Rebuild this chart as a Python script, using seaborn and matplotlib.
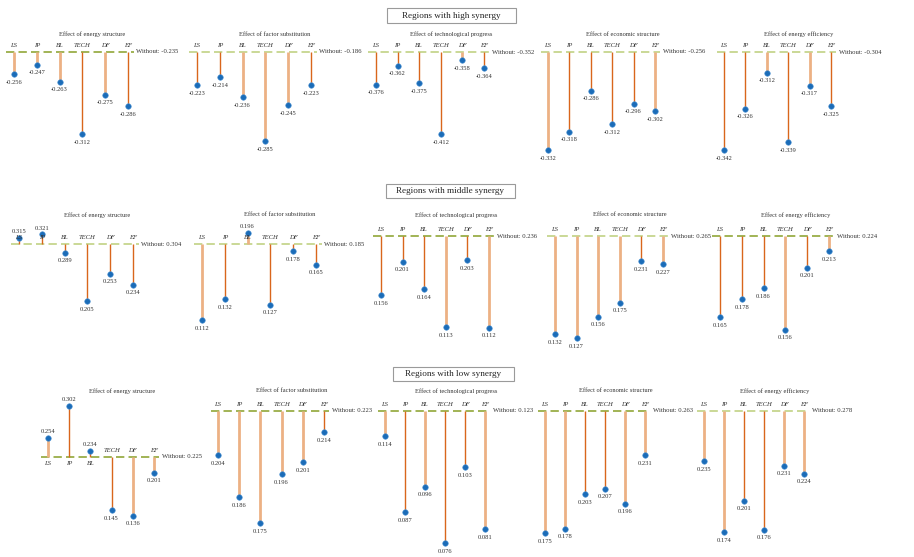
import matplotlib
matplotlib.use("Agg")
import matplotlib.pyplot as plt
from matplotlib.patches import Rectangle
import pandas as pd
import seaborn as sns

# ---- data -------------------------------------------------------------
categories = ["LS", "IP", "BL", "TECH", "DF", "EF"]
effects = ["Effect of energy structure", "Effect of factor substitution",
           "Effect of technological progress", "Effect of economic structure",
           "Effect of energy efficiency"]
groups = ["Regions with high synergy", "Regions with middle synergy",
          "Regions with low synergy"]

high_without = [-0.235, -0.186, -0.352, -0.256, -0.304]
high_values = [
    [-0.256, -0.247, -0.263, -0.312, -0.275, -0.286],
    [-0.223, -0.214, -0.236, -0.285, -0.245, -0.223],
    [-0.376, -0.362, -0.375, -0.412, -0.358, -0.364],
    [-0.332, -0.318, -0.286, -0.312, -0.296, -0.302],
    [-0.342, -0.326, -0.312, -0.339, -0.317, -0.325],
]
middle_without = [0.304, 0.185, 0.236, 0.265, 0.224]
middle_values = [
    [0.315, 0.321, 0.289, 0.205, 0.253, 0.234],
    [0.112, 0.132, 0.196, 0.127, 0.178, 0.165],
    [0.156, 0.201, 0.164, 0.113, 0.203, 0.112],
    [0.132, 0.127, 0.156, 0.175, 0.231, 0.227],
    [0.165, 0.178, 0.186, 0.156, 0.201, 0.213],
]
low_without = [0.225, 0.223, 0.123, 0.263, 0.278]
low_values = [
    [0.254, 0.302, 0.234, 0.145, 0.136, 0.201],
    [0.204, 0.186, 0.175, 0.196, 0.201, 0.214],
    [0.114, 0.087, 0.096, 0.076, 0.103, 0.081],
    [0.175, 0.178, 0.203, 0.207, 0.196, 0.231],
    [0.235, 0.174, 0.201, 0.176, 0.231, 0.224],
]

# ---- styling ----------------------------------------------------------
# stem tone per category: d = dark thin stem, l = light wide stem
stem_tones = [
    ["llldld", "ddllld", "ddddld", "lddddl", "ddldld"],
    ["dddddd", "ldlddd", "dddldl", "lllldl", "dddldl"],
    ["ldddll", "llllld", "ldlddl", "llddll", "llddll"],
]
baseline_tones = ["dllll", "lldld", "ddddl"]

# panel geometry in pixels: first stem x, stem spacing, baseline y, px per unit
panel_geom = [
    [(14, 22.8, 52, 1065), (197, 22.8, 52, 900), (376, 21.6, 52, 1367),
     (548, 21.4, 52, 1289), (724, 21.4, 52, 2579)],
    [(19, 22.8, 244, 580), (202, 22.8, 244, 1045), (381, 21.6, 236, 740),
     (555, 21.6, 236, 740), (720, 21.8, 236, 1380)],
    [(48, 21.2, 457, 662), (218, 21.2, 411, 2333), (385, 20.0, 411, 2809),
     (545, 20.0, 411, 1386), (704, 20.0, 411, 1163)],
]
title_y = [34, 215, 391]
header_boxes = [(451.5, 15.5, 129, 15), (450.5, 191, 129, 14), (453.5, 374, 121, 14)]

DARK_STEM, LIGHT_STEM = "#d9661c", "#ecb184"
DARK_BASE, LIGHT_BASE = "#9aae48", "#c6d68e"
POINT = "#1b6cb8"
TEXT = "#333333"

sns.set_theme(style="white")
plt.rcParams["font.family"] = ["Liberation Serif", "DejaVu Serif"]
plt.rcParams["lines.scale_dashes"] = False

W, H = 914, 557
fig = plt.figure(figsize=(W / 100, H / 100), dpi=100)
fig.patch.set_facecolor("white")

rows = [(high_values, high_without), (middle_values, middle_without),
        (low_values, low_without)]

for r, (vals_row, wo_row) in enumerate(rows):
    for p in range(5):
        x0, dx, by, scale = panel_geom[r][p]
        base = wo_row[p]
        vals = vals_row[p]
        left = x0 - 0.35 * dx
        width = 5.6 * dx
        ax = fig.add_axes([left / W, 0, width / W, 1])
        ax.set_xlim(-0.35, 5.25)
        ax.set_ylim(base - (H - by) / scale, base + by / scale)
        ax.axis("off")
        ax.patch.set_alpha(0)

        bcol = DARK_BASE if baseline_tones[r][p] == "d" else LIGHT_BASE
        ax.axhline(base, color=bcol, lw=1.3, dashes=(6, 3), zorder=1)

        df = pd.DataFrame({"pos": range(len(categories)), "value": vals,
                           "cat": categories})
        for i, v in enumerate(vals):
            dark = stem_tones[r][p][i] == "d"
            ax.vlines(i, base, v, color=DARK_STEM if dark else LIGHT_STEM,
                      lw=1.0 if dark else 2.0, zorder=2)
        sns.scatterplot(data=df, x="pos", y="value", ax=ax, color=POINT,
                        s=16, edgecolor="#4f94d4", linewidth=0.4,
                        zorder=3, legend=False)

        # long upward stems push their category label under the baseline
        flip = max((v - base) * scale for v in vals) > 15
        for i, (cat, v) in enumerate(zip(categories, vals)):
            below = flip and v > base
            ax.annotate(cat, (i, base), xytext=(0, -4.4 if below else 4.4),
                        textcoords="offset points", ha="center", va="center",
                        fontsize=4.8, style="italic", color=TEXT)
            ax.annotate(f"{v:.3f}", (i, v),
                        xytext=(0, -5.8 if v < base else 4.4),
                        textcoords="offset points", ha="center", va="center",
                        fontsize=4.7, color=TEXT)
        ax.annotate(f"Without: {base:.3f}", (5.25, base), xytext=(2, 0),
                    textcoords="offset points", ha="left", va="center",
                    fontsize=4.8, color=TEXT)

        cx = (left + left + width + 44) / 2
        fig.text(cx / W, 1 - title_y[r] / H, effects[p], ha="center",
                 va="center", fontsize=4.6, color=TEXT)

for (cx, cy, bw, bh), label in zip(header_boxes, groups):
    fig.add_artist(Rectangle(((cx - bw / 2) / W, 1 - (cy + bh / 2) / H),
                             bw / W, bh / H, transform=fig.transFigure,
                             facecolor="white", edgecolor="#9a9a9a", lw=0.8))
    fig.text(cx / W, 1 - cy / H, label, ha="center", va="center",
             fontsize=6.6, color="#222222")

fig.savefig("out.png", dpi=100)
